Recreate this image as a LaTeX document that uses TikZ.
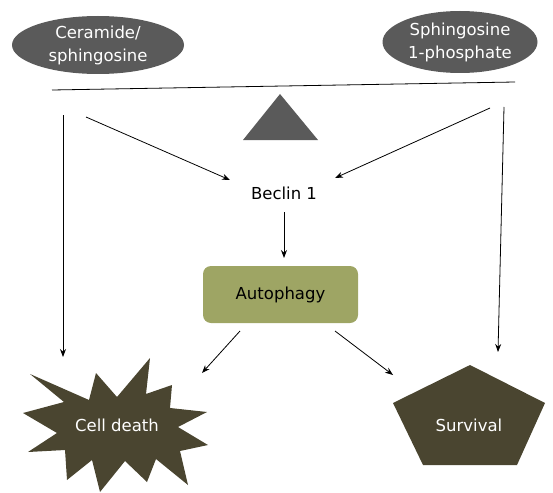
\documentclass[tikz,border=0pt]{standalone}
\usepackage{fontspec}
\setmainfont{DejaVu Sans}
\usetikzlibrary{arrows.meta,shapes.geometric}
\definecolor{ellgray}{HTML}{5A5A5A}
\definecolor{darkolive}{HTML}{4A4530}
\definecolor{autogreen}{HTML}{9EA564}
\tikzset{
  arr/.style={draw=black,line width=0.8pt,-{Stealth[length=8pt,width=6pt]}},
  oval/.style={ellipse,fill=ellgray,text=white,align=center,font=\fontsize{16.5}{23}\selectfont,inner sep=0pt},
  lbl/.style={font=\fontsize{16.5}{19}\selectfont}
}
\begin{document}
\begin{tikzpicture}[x=1pt,y=-1pt]
\useasboundingbox (0,0) rectangle (553,492);
% ellipses
\node[oval,minimum width=172,minimum height=58] (cer) at (98,45) {Ceramide/\\sphingosine};
\node[oval,minimum width=155,minimum height=62] (s1p) at (460,42) {Sphingosine\\1-phosphate};
% beam and fulcrum
\coordinate (beamL) at (52,90);
\coordinate (beamR) at (515,82);
\draw[line width=0.8pt] (beamL) -- (beamR);
\fill[ellgray] (280,94) -- (318,140) -- (243,140) -- cycle;
% beclin
\node[lbl] (bec) at (284,193) {Beclin 1};
% autophagy
\node[lbl,draw=none,fill=autogreen,rounded corners=8pt,minimum width=155,minimum height=57] (aut) at (280.5,294.5) {Autophagy};
% star
\fill[darkolive] (30,374) -- (89,400) -- (96,373) -- (117,397) -- (150,358) -- (146,394) -- (172,385) -- (170,408) -- (207,412) -- (178,427) -- (208,445) -- (180,451) -- (188,485) -- (156,459) -- (147,482) -- (125,461) -- (100,492) -- (92,460) -- (67,480) -- (65,450) -- (28,452) -- (57,433) -- (23,413) -- (64,402) -- cycle;
\node[lbl,text=white] (cd) at (117,425) {Cell death};
% pentagon
\fill[darkolive] (470,365) -- (545,403) -- (517,465) -- (423,465) -- (393,403) -- cycle;
\node[lbl,text=white] (surv) at (469,425) {Survival};
% arrow endpoints
\coordinate (a1s) at (63,115); \coordinate (a1e) at (63,357);
\coordinate (a2s) at (86,117); \coordinate (a2e) at (230,180);
\coordinate (a3s) at (490,108); \coordinate (a3e) at (335,178);
\coordinate (a4s) at (504,107); \coordinate (a4e) at (498,352);
\coordinate (a5s) at (284,212); \coordinate (a5e) at (284,258);
\coordinate (a6s) at (240,331); \coordinate (a6e) at (202,373);
\coordinate (a7s) at (335,331); \coordinate (a7e) at (393,375);
\draw[arr] (a1s) -- (a1e);
\draw[arr] (a2s) -- (a2e);
\draw[arr] (a3s) -- (a3e);
\draw[arr] (a4s) -- (a4e);
\draw[arr] (a5s) -- (a5e);
\draw[arr] (a6s) -- (a6e);
\draw[arr] (a7s) -- (a7e);
\end{tikzpicture}
\end{document}
